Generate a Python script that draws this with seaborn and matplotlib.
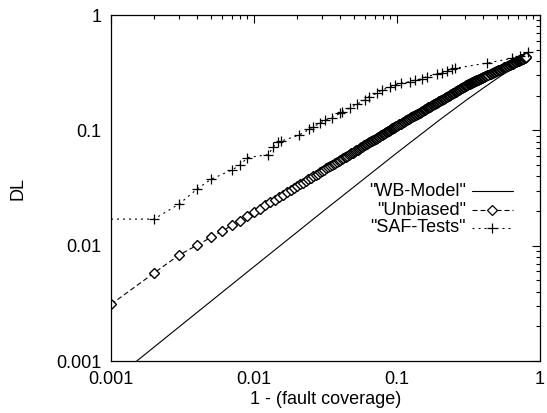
import matplotlib
matplotlib.use("Agg")
import matplotlib.pyplot as plt
import seaborn as sns
import pandas as pd
from matplotlib.ticker import FixedLocator, FixedFormatter, LogLocator, NullFormatter
from matplotlib.lines import Line2D

# ---------------- data ----------------
wb_x = [0.001, 0.003, 0.01, 0.03, 0.1, 0.2, 0.3, 0.4, 0.5, 0.6, 0.7, 0.8]
wb_y = [0.00066, 0.00198, 0.00658, 0.0196, 0.0639, 0.124, 0.180, 0.232, 0.281, 0.327, 0.370, 0.410]

unb_x = [0.001, 0.002, 0.003, 0.004, 0.005, 0.006, 0.007, 0.008, 0.009, 0.010,
         0.011, 0.012, 0.013, 0.014, 0.015, 0.016, 0.017, 0.018, 0.019,
         0.020, 0.021, 0.022, 0.023, 0.024, 0.025, 0.026, 0.027, 0.028, 0.029,
         0.030, 0.031, 0.032, 0.033, 0.034, 0.035, 0.036, 0.037, 0.038, 0.039,
         0.040, 0.041, 0.042, 0.043, 0.044, 0.045, 0.046, 0.047, 0.048, 0.049, 0.050,
         0.052, 0.054, 0.056, 0.058, 0.060, 0.062, 0.064, 0.066, 0.068, 0.070,
         0.072, 0.074, 0.076, 0.078, 0.080, 0.082, 0.084, 0.086, 0.088, 0.090,
         0.092, 0.094, 0.096, 0.098, 0.100,
         0.104, 0.108, 0.112, 0.116, 0.120, 0.124, 0.128, 0.132, 0.136, 0.140,
         0.144, 0.148, 0.152, 0.156, 0.160, 0.164, 0.168, 0.172, 0.176, 0.180,
         0.184, 0.188, 0.192, 0.196, 0.200,
         0.206, 0.212, 0.218, 0.224, 0.230, 0.236, 0.242, 0.248, 0.254, 0.260,
         0.266, 0.272, 0.278, 0.284, 0.290, 0.296, 0.302, 0.308, 0.314,
         0.320, 0.326, 0.332, 0.338, 0.344, 0.350, 0.356, 0.362, 0.368, 0.374,
         0.380, 0.386, 0.392, 0.398, 0.404,
         0.412, 0.420, 0.428, 0.436, 0.444, 0.452, 0.460, 0.468, 0.476, 0.484,
         0.492, 0.500, 0.508, 0.516, 0.524, 0.532, 0.540, 0.548, 0.556, 0.564,
         0.572, 0.580, 0.588, 0.596, 0.604, 0.612, 0.620, 0.628, 0.636, 0.644,
         0.652, 0.660, 0.668, 0.676, 0.684, 0.692, 0.700, 0.708, 0.716, 0.724,
         0.732, 0.740, 0.748, 0.756, 0.764, 0.772, 0.780, 0.788, 0.796, 0.800]
unb_y = [0.0031, 0.0058, 0.0083, 0.0101, 0.0118, 0.0134, 0.0150, 0.0164, 0.0180, 0.0195,
         0.0209, 0.0224, 0.0237, 0.0251, 0.0264, 0.0277, 0.0290, 0.0303, 0.0316,
         0.0328, 0.0340, 0.0352, 0.0364, 0.0376, 0.0388, 0.0399, 0.0411, 0.0422, 0.0433,
         0.0445, 0.0456, 0.0467, 0.0478, 0.0488, 0.0499, 0.0510, 0.0520, 0.0531, 0.0541,
         0.0552, 0.0562, 0.0572, 0.0582, 0.0592, 0.0603, 0.0613, 0.0623, 0.0632, 0.0642, 0.0652,
         0.0672, 0.0691, 0.0710, 0.0729, 0.0748, 0.0766, 0.0785, 0.0803, 0.0821, 0.0839,
         0.0857, 0.0875, 0.0893, 0.0910, 0.0928, 0.0945, 0.0962, 0.0979, 0.0996, 0.1013,
         0.1030, 0.1047, 0.1064, 0.1080, 0.1097,
         0.1128, 0.1159, 0.1190, 0.1221, 0.1251, 0.1281, 0.1310, 0.1340, 0.1369, 0.1398,
         0.1426, 0.1455, 0.1483, 0.1511, 0.1539, 0.1566, 0.1594, 0.1621, 0.1648, 0.1675,
         0.1702, 0.1728, 0.1755, 0.1781, 0.1807,
         0.1846, 0.1885, 0.1923, 0.1960, 0.1998, 0.2036, 0.2073, 0.2110, 0.2146, 0.2183,
         0.2219, 0.2255, 0.2291, 0.2326, 0.2361, 0.2396, 0.2431, 0.2466, 0.2500,
         0.2530, 0.2558, 0.2585, 0.2612, 0.2639, 0.2666, 0.2692, 0.2718, 0.2744, 0.2770,
         0.2796, 0.2821, 0.2847, 0.2872, 0.2897,
         0.2930, 0.2963, 0.2995, 0.3028, 0.3060, 0.3092, 0.3123, 0.3155, 0.3186, 0.3217,
         0.3248, 0.3278, 0.3308, 0.3338, 0.3368, 0.3398, 0.3428, 0.3457, 0.3486, 0.3515,
         0.3544, 0.3572, 0.3601, 0.3630, 0.3658, 0.3686, 0.3714, 0.3741, 0.3769, 0.3796,
         0.3823, 0.3850, 0.3877, 0.3904, 0.3931, 0.3958, 0.3984, 0.4011, 0.4037, 0.4063,
         0.4089, 0.4115, 0.4141, 0.4166, 0.4192, 0.4217, 0.4242, 0.4267, 0.4292, 0.4305]

# further "Unbiased" points in the dense part of the band
unb_x_dense = [0.051, 0.053, 0.055, 0.057, 0.059, 0.061, 0.063, 0.065, 0.067, 0.069,
               0.071, 0.073, 0.075, 0.077, 0.079, 0.081, 0.083, 0.085, 0.087, 0.089,
               0.091, 0.093, 0.095, 0.097, 0.099,
               0.102, 0.106, 0.110, 0.114, 0.118, 0.122, 0.126, 0.130, 0.134, 0.138,
               0.142, 0.146, 0.150, 0.154, 0.158, 0.162, 0.166, 0.170, 0.174, 0.178,
               0.182, 0.186, 0.190, 0.194, 0.198,
               0.203, 0.209, 0.215, 0.221, 0.227, 0.233, 0.239, 0.245, 0.251, 0.257,
               0.263, 0.269, 0.275, 0.281, 0.287, 0.293, 0.299, 0.305, 0.311, 0.317,
               0.323, 0.329, 0.335, 0.341, 0.347, 0.353, 0.359, 0.365, 0.371, 0.377,
               0.383, 0.389, 0.395, 0.401, 0.408]
unb_y_dense = [0.0662, 0.0682, 0.0701, 0.0720, 0.0739, 0.0757, 0.0776, 0.0794, 0.0812, 0.0830,
               0.0848, 0.0866, 0.0884, 0.0902, 0.0919, 0.0937, 0.0954, 0.0971, 0.0988, 0.1005,
               0.1022, 0.1039, 0.1056, 0.1072, 0.1089,
               0.1113, 0.1144, 0.1175, 0.1206, 0.1236, 0.1266, 0.1296, 0.1325, 0.1355, 0.1384,
               0.1412, 0.1441, 0.1469, 0.1497, 0.1525, 0.1553, 0.1580, 0.1608, 0.1635, 0.1662,
               0.1689, 0.1715, 0.1742, 0.1768, 0.1794,
               0.1827, 0.1866, 0.1904, 0.1942, 0.1979, 0.2017, 0.2055, 0.2092, 0.2128, 0.2165,
               0.2201, 0.2237, 0.2273, 0.2309, 0.2344, 0.2379, 0.2414, 0.2449, 0.2483, 0.2515,
               0.2544, 0.2572, 0.2599, 0.2626, 0.2653, 0.2679, 0.2705, 0.2731, 0.2757, 0.2783,
               0.2809, 0.2834, 0.2860, 0.2885, 0.2914]

saf_x = [0.001, 0.002, 0.003, 0.004, 0.005, 0.007, 0.008, 0.009, 0.0126, 0.0136,
         0.0147, 0.0155, 0.0207, 0.0243, 0.0257, 0.029, 0.0314, 0.0349, 0.0399, 0.0412,
         0.0469, 0.0527, 0.0597, 0.0637, 0.0721, 0.0782, 0.0893, 0.0968, 0.106, 0.123,
         0.134, 0.149, 0.161, 0.190, 0.206, 0.223, 0.242, 0.255, 0.426, 0.637,
         0.724, 0.824]
saf_y = [0.017, 0.017, 0.023, 0.031, 0.0376, 0.0453, 0.050, 0.058, 0.0617, 0.0716,
         0.079, 0.0807, 0.091, 0.102, 0.107, 0.115, 0.123, 0.129, 0.140, 0.145,
         0.156, 0.169, 0.183, 0.196, 0.209, 0.224, 0.236, 0.247, 0.256, 0.264,
         0.273, 0.279, 0.292, 0.308, 0.316, 0.329, 0.338, 0.345, 0.383, 0.421,
         0.441, 0.478]

tick_values = [0.001, 0.01, 0.1, 1]
tick_labels = ["0.001", "0.01", "0.1", "1"]
series_labels = ['"WB-Model"', '"Unbiased"', '"SAF-Tests"']
x_label = "1 - (fault coverage)"
y_label = "DL"

unb = pd.DataFrame({"x": unb_x + unb_x_dense, "y": unb_y + unb_y_dense})
unb = unb.sort_values("x")

# ---------------- styling ----------------
sns.set_theme(style="white")
plt.rcParams['font.family'] = ['Liberation Sans', 'DejaVu Sans']
FS = 13

fig = plt.figure(figsize=(5.47, 4.13), dpi=100)
ax = fig.add_axes([111 / 547, 1 - 361 / 413, 429 / 547, 346 / 413])
ax.set_xscale('log')
ax.set_yscale('log')

LW = 0.8
UNB_DASH = (0, (4.5, 2.7))
SAF_DASH = (0, (1.8, 3.6))
D_MS = 4.6
sns.lineplot(x=wb_x, y=wb_y, ax=ax, color='black', lw=LW,
             estimator=None, sort=False)
sns.lineplot(data=unb, x="x", y="y", ax=ax, color='black', lw=LW,
             linestyle=UNB_DASH, marker='D', ms=D_MS, mfc='white',
             mec='black', mew=1.0, estimator=None, sort=False)
sns.lineplot(x=saf_x, y=saf_y, ax=ax, color='black', lw=LW,
             linestyle=SAF_DASH, marker='+', ms=7, mew=0.9, mec='black',
             markevery=list(range(1, len(saf_x))),
             estimator=None, sort=False)

ax.set_xlim(0.001, 1)
ax.set_ylim(0.001, 1)

for axis in (ax.xaxis, ax.yaxis):
    axis.set_major_locator(FixedLocator(tick_values))
    axis.set_major_formatter(FixedFormatter(tick_labels))
    axis.set_minor_locator(LogLocator(base=10, subs=range(2, 10), numticks=20))
    axis.set_minor_formatter(NullFormatter())

ax.tick_params(which='both', direction='in', top=True, right=True,
               color='black', width=0.8, labelsize=FS, labelcolor='black')
ax.tick_params(which='major', length=6, pad=7)
ax.tick_params(which='minor', length=3)
for sp in ax.spines.values():
    sp.set_color('black')
    sp.set_linewidth(0.9)

ax.set_xlabel(x_label, fontsize=FS, color='black', labelpad=2)
ax.set_ylabel(y_label, fontsize=FS, color='black', labelpad=21)

# gnuplot-style key: right-aligned text, sample on the right
key_rows = [0.491, 0.4364, 0.3844]
key_text_x = 0.8275
key_line = (0.8415, 0.937)
styles = [
    dict(ls='-', marker=None),
    dict(ls=UNB_DASH, marker='D', ms=D_MS, mfc='white'),
    dict(ls=SAF_DASH, marker='+', ms=7, mfc='black'),
]
for lab, yy, st in zip(series_labels, key_rows, styles):
    ax.text(key_text_x, yy, lab, transform=ax.transAxes, ha='right', va='center',
            fontsize=FS, color='black')
    ax.add_line(Line2D(list(key_line), [yy, yy], transform=ax.transAxes,
                       color='black', lw=LW, linestyle=st['ls']))
    if st['marker'] is not None:
        ax.add_line(Line2D([(key_line[0] + key_line[1]) / 2], [yy],
                           transform=ax.transAxes, color='black', lw=0,
                           marker=st['marker'], ms=st['ms'], mew=0.9,
                           mfc=st['mfc'], mec='black'))

fig.savefig("out.png", dpi=100)
